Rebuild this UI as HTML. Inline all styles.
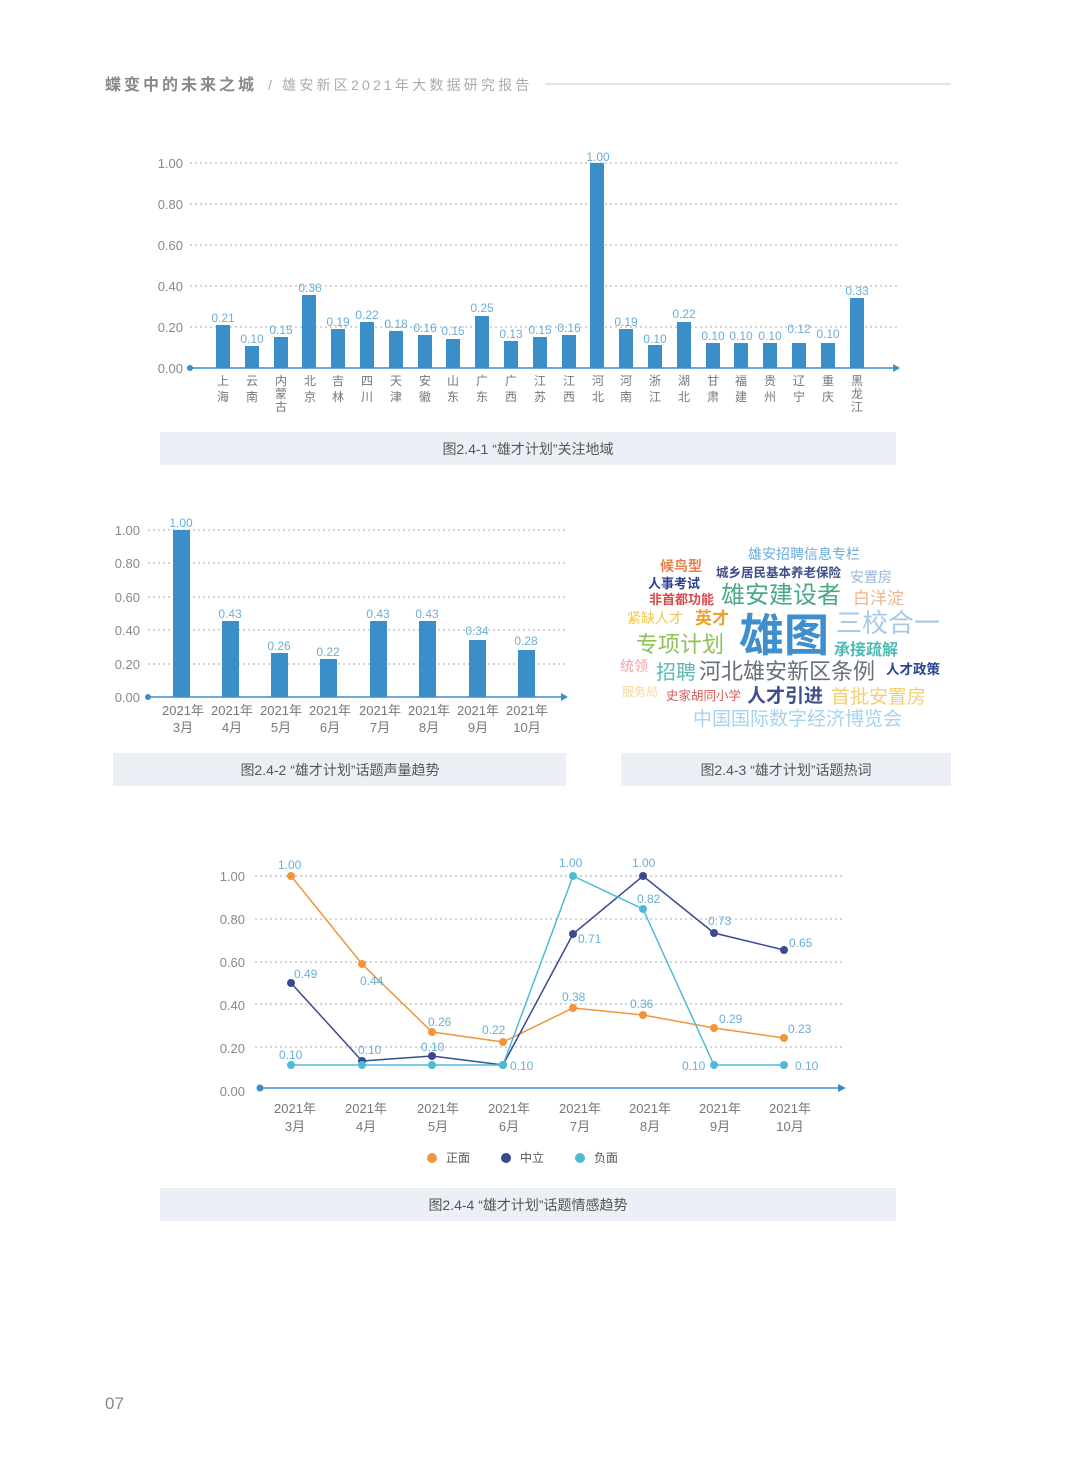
<!DOCTYPE html>
<html><head><meta charset="utf-8"><style>
body{margin:0;background:#fff;}
svg{display:block;font-family:"Liberation Sans","Noto Sans CJK SC",sans-serif;}
.t{fill:#888;font-size:13px}
.v{fill:#6aaed6;font-size:12px;text-anchor:middle}
.c{fill:#777;font-size:12px;text-anchor:middle}
.g{stroke:#aaa;stroke-dasharray:2,3;stroke-width:1}
.cap{fill:#555;font-size:14px;text-anchor:middle}
</style></head><body>
<svg width="1080" height="1459" viewBox="0 0 1080 1459">
<rect width="1080" height="1459" fill="#fff"/>
<text x="105" y="90" font-size="16" font-weight="bold" fill="#888" letter-spacing="3">蝶变中的未来之城</text>
<text x="268" y="90" font-size="14" fill="#aaa" letter-spacing="3.2">/ 雄安新区2021年大数据研究报告</text>
<line x1="545" y1="84" x2="951" y2="84" stroke="#ccc"/>

<g text-anchor="end">
<text class="t" x="183" y="168">1.00</text><text class="t" x="183" y="209">0.80</text><text class="t" x="183" y="250">0.60</text><text class="t" x="183" y="291">0.40</text><text class="t" x="183" y="332">0.20</text><text class="t" x="183" y="373">0.00</text></g>
<line class="g" x1="190" y1="163" x2="898" y2="163"/><line class="g" x1="190" y1="204" x2="898" y2="204"/><line class="g" x1="190" y1="245" x2="898" y2="245"/><line class="g" x1="190" y1="286" x2="898" y2="286"/><line class="g" x1="190" y1="327" x2="898" y2="327"/>
<g fill="#3a8fc8">
<rect x="216" y="325" width="14" height="43"/><rect x="245" y="346" width="14" height="22"/><rect x="274" y="337" width="14" height="31"/><rect x="302" y="295" width="14" height="73"/><rect x="331" y="329" width="14" height="39"/><rect x="360" y="322" width="14" height="46"/><rect x="389" y="331" width="14" height="37"/><rect x="418" y="335" width="14" height="33"/><rect x="446" y="339" width="14" height="29"/><rect x="475" y="316" width="14" height="52"/><rect x="504" y="341" width="14" height="27"/><rect x="533" y="337" width="14" height="31"/><rect x="562" y="335" width="14" height="33"/><rect x="590" y="163" width="14" height="205"/><rect x="619" y="329" width="14" height="39"/><rect x="648" y="345" width="14" height="23"/><rect x="677" y="322" width="14" height="46"/><rect x="706" y="343" width="14" height="25"/><rect x="734" y="343" width="14" height="25"/><rect x="763" y="343" width="14" height="25"/><rect x="792" y="343" width="14" height="25"/><rect x="821" y="343" width="14" height="25"/><rect x="850" y="298" width="14" height="70"/>
</g>
<line x1="190" y1="368" x2="895" y2="368" stroke="#3a8fc8" stroke-width="1.5"/><circle cx="190" cy="368" r="3" fill="#3a8fc8"/><path d="M893 364 L900 368 L893 372Z" fill="#3a8fc8"/>
<g class="v">
<text x="223" y="322">0.21</text><text x="252" y="343">0.10</text><text x="281" y="334">0.15</text><text x="310" y="292">0.36</text><text x="338" y="326">0.19</text><text x="367" y="319">0.22</text><text x="396" y="328">0.18</text><text x="425" y="332">0.16</text><text x="453" y="335">0.15</text><text x="482" y="312">0.25</text><text x="511" y="338">0.13</text><text x="540" y="334">0.15</text><text x="569" y="332">0.16</text><text x="598" y="161">1.00</text><text x="626" y="326">0.19</text><text x="655" y="343">0.10</text><text x="684" y="318">0.22</text><text x="713" y="340">0.10</text><text x="741" y="340">0.10</text><text x="770" y="340">0.10</text><text x="799" y="333">0.12</text><text x="828" y="338">0.10</text><text x="857" y="295">0.33</text>
</g>
<g class="c">
<text x="223" y="385">上</text><text x="223" y="401">海</text>
<text x="252" y="385">云</text><text x="252" y="401">南</text>
<text x="281" y="385">内</text><text x="281" y="398">蒙</text><text x="281" y="411">古</text>
<text x="310" y="385">北</text><text x="310" y="401">京</text>
<text x="338" y="385">吉</text><text x="338" y="401">林</text>
<text x="367" y="385">四</text><text x="367" y="401">川</text>
<text x="396" y="385">天</text><text x="396" y="401">津</text>
<text x="425" y="385">安</text><text x="425" y="401">徽</text>
<text x="453" y="385">山</text><text x="453" y="401">东</text>
<text x="482" y="385">广</text><text x="482" y="401">东</text>
<text x="511" y="385">广</text><text x="511" y="401">西</text>
<text x="540" y="385">江</text><text x="540" y="401">苏</text>
<text x="569" y="385">江</text><text x="569" y="401">西</text>
<text x="598" y="385">河</text><text x="598" y="401">北</text>
<text x="626" y="385">河</text><text x="626" y="401">南</text>
<text x="655" y="385">浙</text><text x="655" y="401">江</text>
<text x="684" y="385">湖</text><text x="684" y="401">北</text>
<text x="713" y="385">甘</text><text x="713" y="401">肃</text>
<text x="741" y="385">福</text><text x="741" y="401">建</text>
<text x="770" y="385">贵</text><text x="770" y="401">州</text>
<text x="799" y="385">辽</text><text x="799" y="401">宁</text>
<text x="828" y="385">重</text><text x="828" y="401">庆</text>
<text x="857" y="385">黑</text><text x="857" y="398">龙</text><text x="857" y="411">江</text>
</g>
<rect x="160" y="432" width="736" height="33" fill="#eceff5"/>
<text class="cap" x="528" y="454">图2.4-1 “雄才计划”关注地域</text>

<g text-anchor="end">
<text class="t" x="140" y="535">1.00</text><text class="t" x="140" y="568">0.80</text><text class="t" x="140" y="602">0.60</text><text class="t" x="140" y="635">0.40</text><text class="t" x="140" y="669">0.20</text><text class="t" x="140" y="702">0.00</text></g>
<line class="g" x1="148" y1="530" x2="566" y2="530"/><line class="g" x1="148" y1="563" x2="566" y2="563"/><line class="g" x1="148" y1="597" x2="566" y2="597"/><line class="g" x1="148" y1="630" x2="566" y2="630"/><line class="g" x1="148" y1="664" x2="566" y2="664"/>
<g fill="#3a8fc8">
<rect x="173" y="530" width="17" height="167"/><rect x="222" y="621" width="17" height="76"/><rect x="271" y="653" width="17" height="44"/><rect x="320" y="659" width="17" height="38"/><rect x="370" y="621" width="17" height="76"/><rect x="419" y="621" width="17" height="76"/><rect x="469" y="640" width="17" height="57"/><rect x="518" y="650" width="17" height="47"/>
</g>
<line x1="148" y1="697" x2="563" y2="697" stroke="#3a8fc8" stroke-width="1.5"/><circle cx="148" cy="697" r="3" fill="#3a8fc8"/><path d="M561 693 L568 697 L561 701Z" fill="#3a8fc8"/>
<g class="v">
<text x="181" y="527">1.00</text><text x="230" y="618">0.43</text><text x="279" y="650">0.26</text><text x="328" y="656">0.22</text><text x="378" y="618">0.43</text><text x="427" y="618">0.43</text><text x="477" y="635">0.34</text><text x="526" y="645">0.28</text>
</g>
<g class="c" style="font-size:13px">
<text x="183" y="715">2021年</text><text x="183" y="732">3月</text>
<text x="232" y="715">2021年</text><text x="232" y="732">4月</text>
<text x="281" y="715">2021年</text><text x="281" y="732">5月</text>
<text x="330" y="715">2021年</text><text x="330" y="732">6月</text>
<text x="380" y="715">2021年</text><text x="380" y="732">7月</text>
<text x="429" y="715">2021年</text><text x="429" y="732">8月</text>
<text x="478" y="715">2021年</text><text x="478" y="732">9月</text>
<text x="527" y="715">2021年</text><text x="527" y="732">10月</text>
</g>
<rect x="113" y="753" width="453" height="33" fill="#eceff5"/>
<text class="cap" x="340" y="775">图2.4-2 “雄才计划”话题声量趋势</text>

<g>
<text x="748" y="559" font-size="14" fill="#6aaedb">雄安招聘信息专栏</text>
<text x="660" y="571" font-size="14" font-weight="bold" fill="#e8804a">候鸟型</text>
<text x="716" y="577" font-size="12.5" font-weight="bold" fill="#3f4e8c">城乡居民基本养老保险</text>
<text x="850" y="582" font-size="14" fill="#9ab7d6">安置房</text>
<text x="648" y="588" font-size="13" font-weight="bold" fill="#2a3d8f">人事考试</text>
<text x="649" y="604" font-size="13" font-weight="bold" fill="#d94c4c">非首都功能</text>
<text x="721" y="603" font-size="24" fill="#4aa88a">雄安建设者</text>
<text x="853" y="604" font-size="17" fill="#f2b48a">白洋淀</text>
<text x="627" y="623" font-size="14" fill="#f2c54e">紧缺人才</text>
<text x="695" y="624" font-size="17" font-weight="bold" fill="#f0a030">英才</text>
<text x="739" y="651" font-size="45" font-weight="bold" fill="#3f8fcf">雄图</text>
<text x="836" y="632" font-size="26" fill="#a8c8e8">三校合一</text>
<text x="636" y="652" font-size="22" fill="#8cc257">专项计划</text>
<text x="834" y="655" font-size="16" font-weight="bold" fill="#4bbcb4">承接疏解</text>
<text x="620" y="671" font-size="14" fill="#f1a0a8">统领</text>
<text x="656" y="679" font-size="20" fill="#5ab8b4">招聘</text>
<text x="699" y="679" font-size="22" fill="#66707c">河北雄安新区条例</text>
<text x="886" y="674" font-size="13.5" font-weight="bold" fill="#2a4590">人才政策</text>
<text x="622" y="696" font-size="12" fill="#f6d89a">服务局</text>
<text x="666" y="700" font-size="12.5" fill="#d85a5a">史家胡同小学</text>
<text x="747" y="702" font-size="19" font-weight="bold" fill="#3f4e8c">人才引进</text>
<text x="831" y="703" font-size="19" fill="#f2d070">首批安置房</text>
<text x="693" y="725" font-size="19" fill="#a6d3ef">中国国际数字经济博览会</text>
</g>
<rect x="621" y="753" width="330" height="33" fill="#eceff5"/>
<text class="cap" x="786" y="775">图2.4-3 “雄才计划”话题热词</text>

<g text-anchor="end">
<text class="t" x="245" y="881">1.00</text><text class="t" x="245" y="924">0.80</text><text class="t" x="245" y="967">0.60</text><text class="t" x="245" y="1010">0.40</text><text class="t" x="245" y="1053">0.20</text><text class="t" x="245" y="1096">0.00</text></g>
<line class="g" x1="255" y1="876" x2="845" y2="876"/><line class="g" x1="255" y1="919" x2="845" y2="919"/><line class="g" x1="255" y1="962" x2="845" y2="962"/><line class="g" x1="255" y1="1004" x2="845" y2="1004"/><line class="g" x1="255" y1="1047" x2="845" y2="1047"/>
<line x1="260" y1="1088" x2="842" y2="1088" stroke="#3a8fc8" stroke-width="1.5"/><circle cx="260" cy="1088" r="3.5" fill="#3a8fc8"/><path d="M838 1084 L846 1088 L838 1092Z" fill="#3a8fc8"/>
<polyline fill="none" stroke="#f0953a" stroke-width="1.5" points="291,876 362,964 432,1032 503,1042 573,1008 643,1015 714,1028 784,1038"/>
<polyline fill="none" stroke="#3a4a90" stroke-width="1.5" points="291,983 362,1061 432,1056 503,1065 573,934 643,876 714,933 784,950"/>
<polyline fill="none" stroke="#4dbbd8" stroke-width="1.5" points="291,1065 362,1065 432,1065 503,1065 573,876 643,909 714,1065 784,1065"/>
<g fill="#f0953a"><circle cx="291" cy="876" r="4"/><circle cx="362" cy="964" r="4"/><circle cx="432" cy="1032" r="4"/><circle cx="503" cy="1042" r="4"/><circle cx="573" cy="1008" r="4"/><circle cx="643" cy="1015" r="4"/><circle cx="714" cy="1028" r="4"/><circle cx="784" cy="1038" r="4"/></g>
<g fill="#3a4a90"><circle cx="291" cy="983" r="4"/><circle cx="362" cy="1061" r="4"/><circle cx="432" cy="1056" r="4"/><circle cx="503" cy="1065" r="4"/><circle cx="573" cy="934" r="4"/><circle cx="643" cy="876" r="4"/><circle cx="714" cy="933" r="4"/><circle cx="784" cy="950" r="4"/></g>
<g fill="#4dbbd8"><circle cx="291" cy="1065" r="4"/><circle cx="362" cy="1065" r="4"/><circle cx="432" cy="1065" r="4"/><circle cx="503" cy="1065" r="4"/><circle cx="573" cy="876" r="4"/><circle cx="643" cy="909" r="4"/><circle cx="714" cy="1065" r="4"/><circle cx="784" cy="1065" r="4"/></g>
<g class="v" style="text-anchor:start">
<text x="278" y="869">1.00</text><text x="294" y="978">0.49</text><text x="360" y="985">0.44</text><text x="428" y="1026">0.26</text><text x="482" y="1034">0.22</text><text x="562" y="1001">0.38</text><text x="630" y="1008">0.36</text><text x="719" y="1023">0.29</text><text x="788" y="1033">0.23</text>
<text x="279" y="1059">0.10</text><text x="358" y="1054">0.10</text><text x="421" y="1051">0.10</text><text x="510" y="1070">0.10</text><text x="578" y="943">0.71</text><text x="632" y="867">1.00</text><text x="637" y="903">0.82</text><text x="708" y="925">0.73</text><text x="789" y="947">0.65</text>
<text x="559" y="867">1.00</text><text x="682" y="1070">0.10</text><text x="795" y="1070">0.10</text>
</g>
<g class="c" style="font-size:13px">
<text x="295" y="1113">2021年</text><text x="295" y="1131">3月</text>
<text x="366" y="1113">2021年</text><text x="366" y="1131">4月</text>
<text x="438" y="1113">2021年</text><text x="438" y="1131">5月</text>
<text x="509" y="1113">2021年</text><text x="509" y="1131">6月</text>
<text x="580" y="1113">2021年</text><text x="580" y="1131">7月</text>
<text x="650" y="1113">2021年</text><text x="650" y="1131">8月</text>
<text x="720" y="1113">2021年</text><text x="720" y="1131">9月</text>
<text x="790" y="1113">2021年</text><text x="790" y="1131">10月</text>
</g>
<circle cx="432" cy="1158" r="5" fill="#f0953a"/><text x="446" y="1162" font-size="12" fill="#555">正面</text>
<circle cx="506" cy="1158" r="5" fill="#3a4a90"/><text x="520" y="1162" font-size="12" fill="#555">中立</text>
<circle cx="580" cy="1158" r="5" fill="#4dbbd8"/><text x="594" y="1162" font-size="12" fill="#555">负面</text>
<rect x="160" y="1188" width="736" height="33" fill="#eceff5"/>
<text class="cap" x="528" y="1210">图2.4-4 “雄才计划”话题情感趋势</text>

<text x="105" y="1409" font-size="17" fill="#888">07</text>
</svg>
</body></html>
